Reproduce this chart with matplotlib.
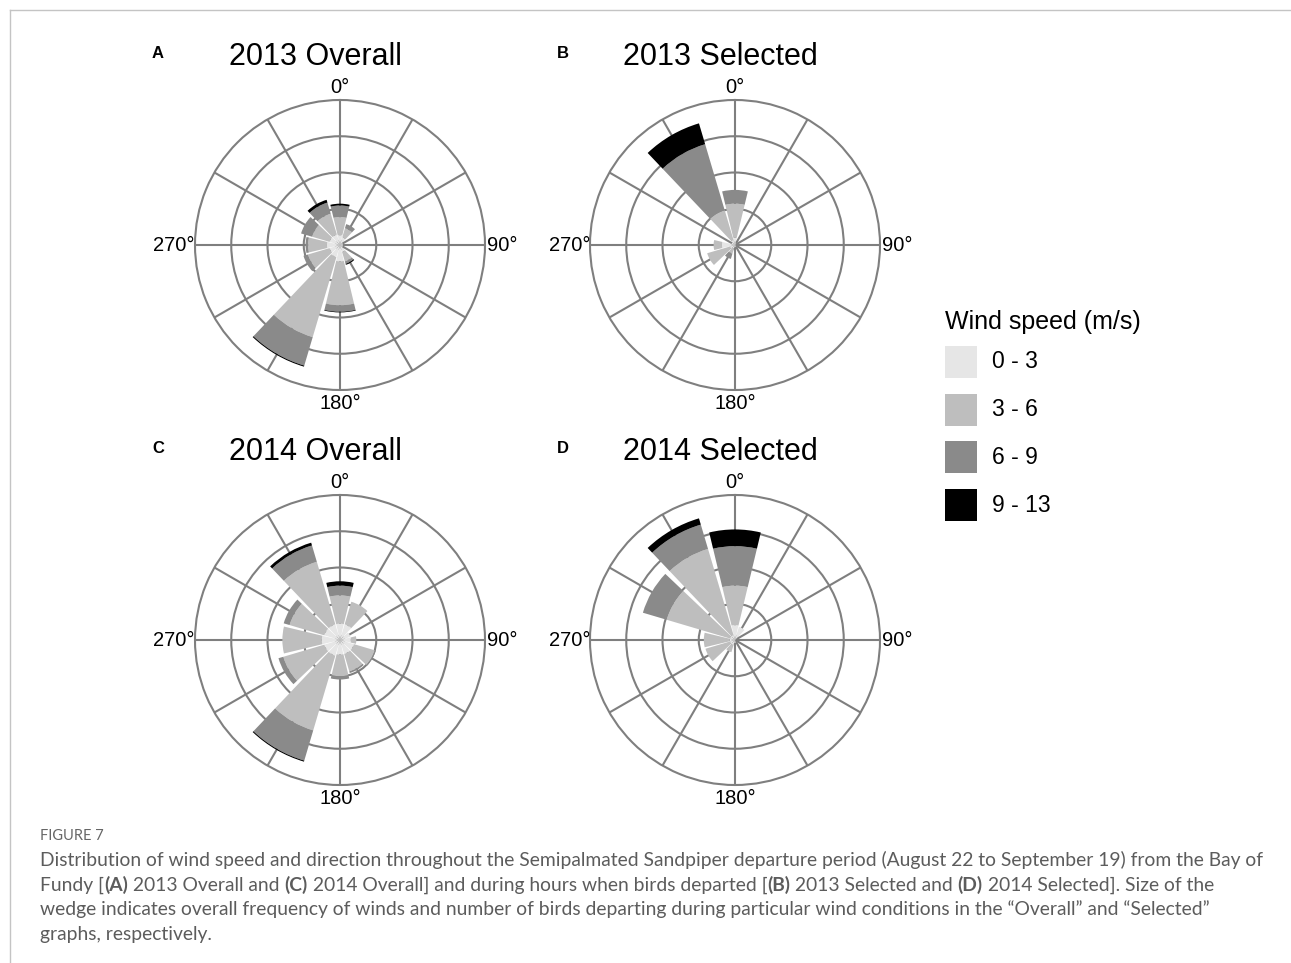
import numpy as np
import matplotlib
matplotlib.use("Agg")
import matplotlib.pyplot as plt
from matplotlib.patches import Rectangle
from matplotlib.lines import Line2D

# wind direction sectors (degrees, clockwise from north)
directions = [0, 30, 60, 90, 120, 150, 180, 210, 240, 270, 300, 330]
speed_bins = ["0 - 3", "3 - 6", "6 - 9", "9 - 13"]
bin_colors = ["#e6e6e6", "#bebebe", "#8a8a8a", "#000000"]

# one row per speed bin (0-3, 3-6, 6-9, 9-13 m/s), one column per direction
overall_2013 = [
    [0.27, 0.22, 0.08, 0.08, 0.08, 0.20, 0.45, 0.35, 0.30, 0.36, 0.30, 0.30],
    [0.50, 0.26, 0.00, 0.00, 0.00, 0.27, 1.21, 2.30, 0.62, 0.52, 0.50, 0.60],
    [0.32, 0.12, 0.00, 0.00, 0.00, 0.07, 0.18, 0.82, 0.13, 0.07, 0.32, 0.32],
    [0.05, 0.00, 0.00, 0.00, 0.00, 0.03, 0.02, 0.03, 0.00, 0.00, 0.00, 0.08],
]
selected_2013 = [
    [0.20, 0.05, 0.00, 0.00, 0.00, 0.05, 0.05, 0.10, 0.15, 0.36, 0.10, 0.15],
    [0.94, 0.00, 0.00, 0.00, 0.00, 0.00, 0.00, 0.15, 0.65, 0.23, 0.00, 0.85],
    [0.38, 0.00, 0.00, 0.00, 0.00, 0.00, 0.00, 0.15, 0.00, 0.00, 0.00, 1.90],
    [0.00, 0.00, 0.00, 0.00, 0.00, 0.00, 0.00, 0.00, 0.00, 0.00, 0.00, 0.60],
]
overall_2014 = [
    [0.45, 0.45, 0.30, 0.30, 0.40, 0.40, 0.40, 0.45, 0.45, 0.50, 0.45, 0.45],
    [0.78, 0.65, 0.00, 0.15, 0.60, 0.50, 0.60, 2.15, 1.18, 1.09, 1.00, 1.80],
    [0.27, 0.00, 0.00, 0.00, 0.03, 0.05, 0.09, 0.87, 0.14, 0.00, 0.17, 0.47],
    [0.12, 0.00, 0.00, 0.00, 0.00, 0.00, 0.00, 0.03, 0.00, 0.00, 0.00, 0.08],
]
selected_2014 = [
    [0.41, 0.38, 0.00, 0.00, 0.00, 0.00, 0.08, 0.15, 0.15, 0.15, 0.15, 0.15],
    [1.09, 0.00, 0.00, 0.00, 0.00, 0.00, 0.00, 0.20, 0.70, 0.71, 1.82, 2.47],
    [1.09, 0.00, 0.00, 0.00, 0.00, 0.00, 0.00, 0.00, 0.00, 0.00, 0.68, 0.70],
    [0.46, 0.00, 0.00, 0.00, 0.00, 0.00, 0.00, 0.00, 0.00, 0.00, 0.00, 0.18],
]

W, H = 1291, 963
R = 145  # rose radius in pixels
grid_col = "#7f7f7f"

plt.rcParams["font.family"] = ["Liberation Sans", "DejaVu Sans"]
fig = plt.figure(figsize=(W / 100, H / 100), dpi=100)


def rose(letter, title, counts, cx, cy, title_x):
    ax = fig.add_axes([(cx - R) / W, 1 - (cy + R) / H, 2 * R / W, 2 * R / H],
                      projection="polar")
    ax.set_theta_zero_location("N")
    ax.set_theta_direction(-1)
    theta = np.deg2rad(directions)
    bottom = np.zeros(len(directions))
    for vals, col in zip(counts, bin_colors):
        ax.bar(theta, vals, width=np.deg2rad(27), bottom=bottom,
               color=col, linewidth=0, zorder=3)
        bottom += np.array(vals)
    ax.set_ylim(0, 4)
    ax.set_yticks([1, 2, 3])
    ax.set_yticklabels([])
    ax.set_xticks(theta)
    ax.set_xticklabels([])
    ax.tick_params(length=0)
    ax.grid(True, color=grid_col, linewidth=1.5)
    ax.spines["polar"].set_color(grid_col)
    ax.spines["polar"].set_linewidth(1.5)
    ax.set_axisbelow(True)

    d = 1 / (2 * R)
    fs = 14.5
    ax.text(0.5, 1 + 3 * d, "0°", transform=ax.transAxes, ha="center", va="bottom", fontsize=fs)
    ax.text(1 + 2 * d, 0.5, "90°", transform=ax.transAxes, ha="left", va="center", fontsize=fs)
    ax.text(0.5, -4 * d, "180°", transform=ax.transAxes, ha="center", va="top", fontsize=fs)
    ax.text(0 * d, 0.5, "270°", transform=ax.transAxes, ha="right", va="center", fontsize=fs)

    fig.text(title_x / W, 1 - (cy - 188) / H, title, ha="center", va="center", fontsize=22)
    fig.text((title_x - 157) / W, 1 - (cy - 192) / H, letter, ha="center", va="center",
             fontsize=12, fontweight="bold")


rose("A", "2013 Overall", overall_2013, 340, 245, 315)
rose("B", "2013 Selected", selected_2013, 735, 245, 720)
rose("C", "2014 Overall", overall_2014, 340, 640, 315)
rose("D", "2014 Selected", selected_2014, 735, 640, 720)

# legend
fig.text(945 / W, 1 - 322 / H, "Wind speed (m/s)", ha="left", va="center", fontsize=18)
for i, (lab, col) in enumerate(zip(speed_bins, bin_colors)):
    yc = 362 + i * 47.7
    fig.add_artist(Rectangle((945 / W, 1 - (yc + 16) / H), 32 / W, 32 / H,
                             transform=fig.transFigure, facecolor=col, edgecolor="none"))
    fig.text(992 / W, 1 - yc / H, lab, ha="left", va="center", fontsize=16.5)

# frame lines
fig.add_artist(Line2D([10 / W, 1], [1 - 10 / H, 1 - 10 / H], transform=fig.transFigure,
                      color="#c4c4c4", linewidth=1))
fig.add_artist(Line2D([10 / W, 10 / W], [0, 1 - 10 / H], transform=fig.transFigure,
                      color="#c4c4c4", linewidth=1))

# caption
cap_font = ["Lato", "DejaVu Sans"]
cap_col = "#5c5c5c"
cap_fs = 13.9
renderer = fig.canvas.get_renderer()


def text_width(s, weight):
    t = fig.text(0, 0, "|" + s + "|", fontsize=cap_fs, family=cap_font, fontweight=weight)
    w = t.get_window_extent(renderer).width
    t.remove()
    t = fig.text(0, 0, "||", fontsize=cap_fs, family=cap_font, fontweight=weight)
    w0 = t.get_window_extent(renderer).width
    t.remove()
    return w - w0


def rich_line(y, parts, x0=40):
    x = x0
    for s, bold in parts:
        weight = "bold" if bold else "normal"
        fig.text(x / W, 1 - y / H, s, fontsize=cap_fs, family=cap_font, color=cap_col,
                 fontweight=weight, ha="left", va="center")
        x += text_width(s, weight)


fig.text(40 / W, 1 - 836 / H, "FIGURE 7", fontsize=10.5, family=cap_font, color="#666666",
         ha="left", va="center")
rich_line(860, [("Distribution of wind speed and direction throughout the Semipalmated Sandpiper "
                 "departure period (August 22 to September 19) from the Bay of", False)])
rich_line(885, [("Fundy [", False), ("(A)", True), (" 2013 Overall and ", False), ("(C)", True),
                (" 2014 Overall] and during hours when birds departed [", False), ("(B)", True),
                (" 2013 Selected and ", False), ("(D)", True), (" 2014 Selected]. Size of the", False)])
rich_line(909, [("wedge indicates overall frequency of winds and number of birds departing during "
                 "particular wind conditions in the \u201cOverall\u201d and \u201cSelected\u201d", False)])
rich_line(934, [("graphs, respectively.", False)])

fig.savefig("out.png", dpi=100, facecolor="white")
